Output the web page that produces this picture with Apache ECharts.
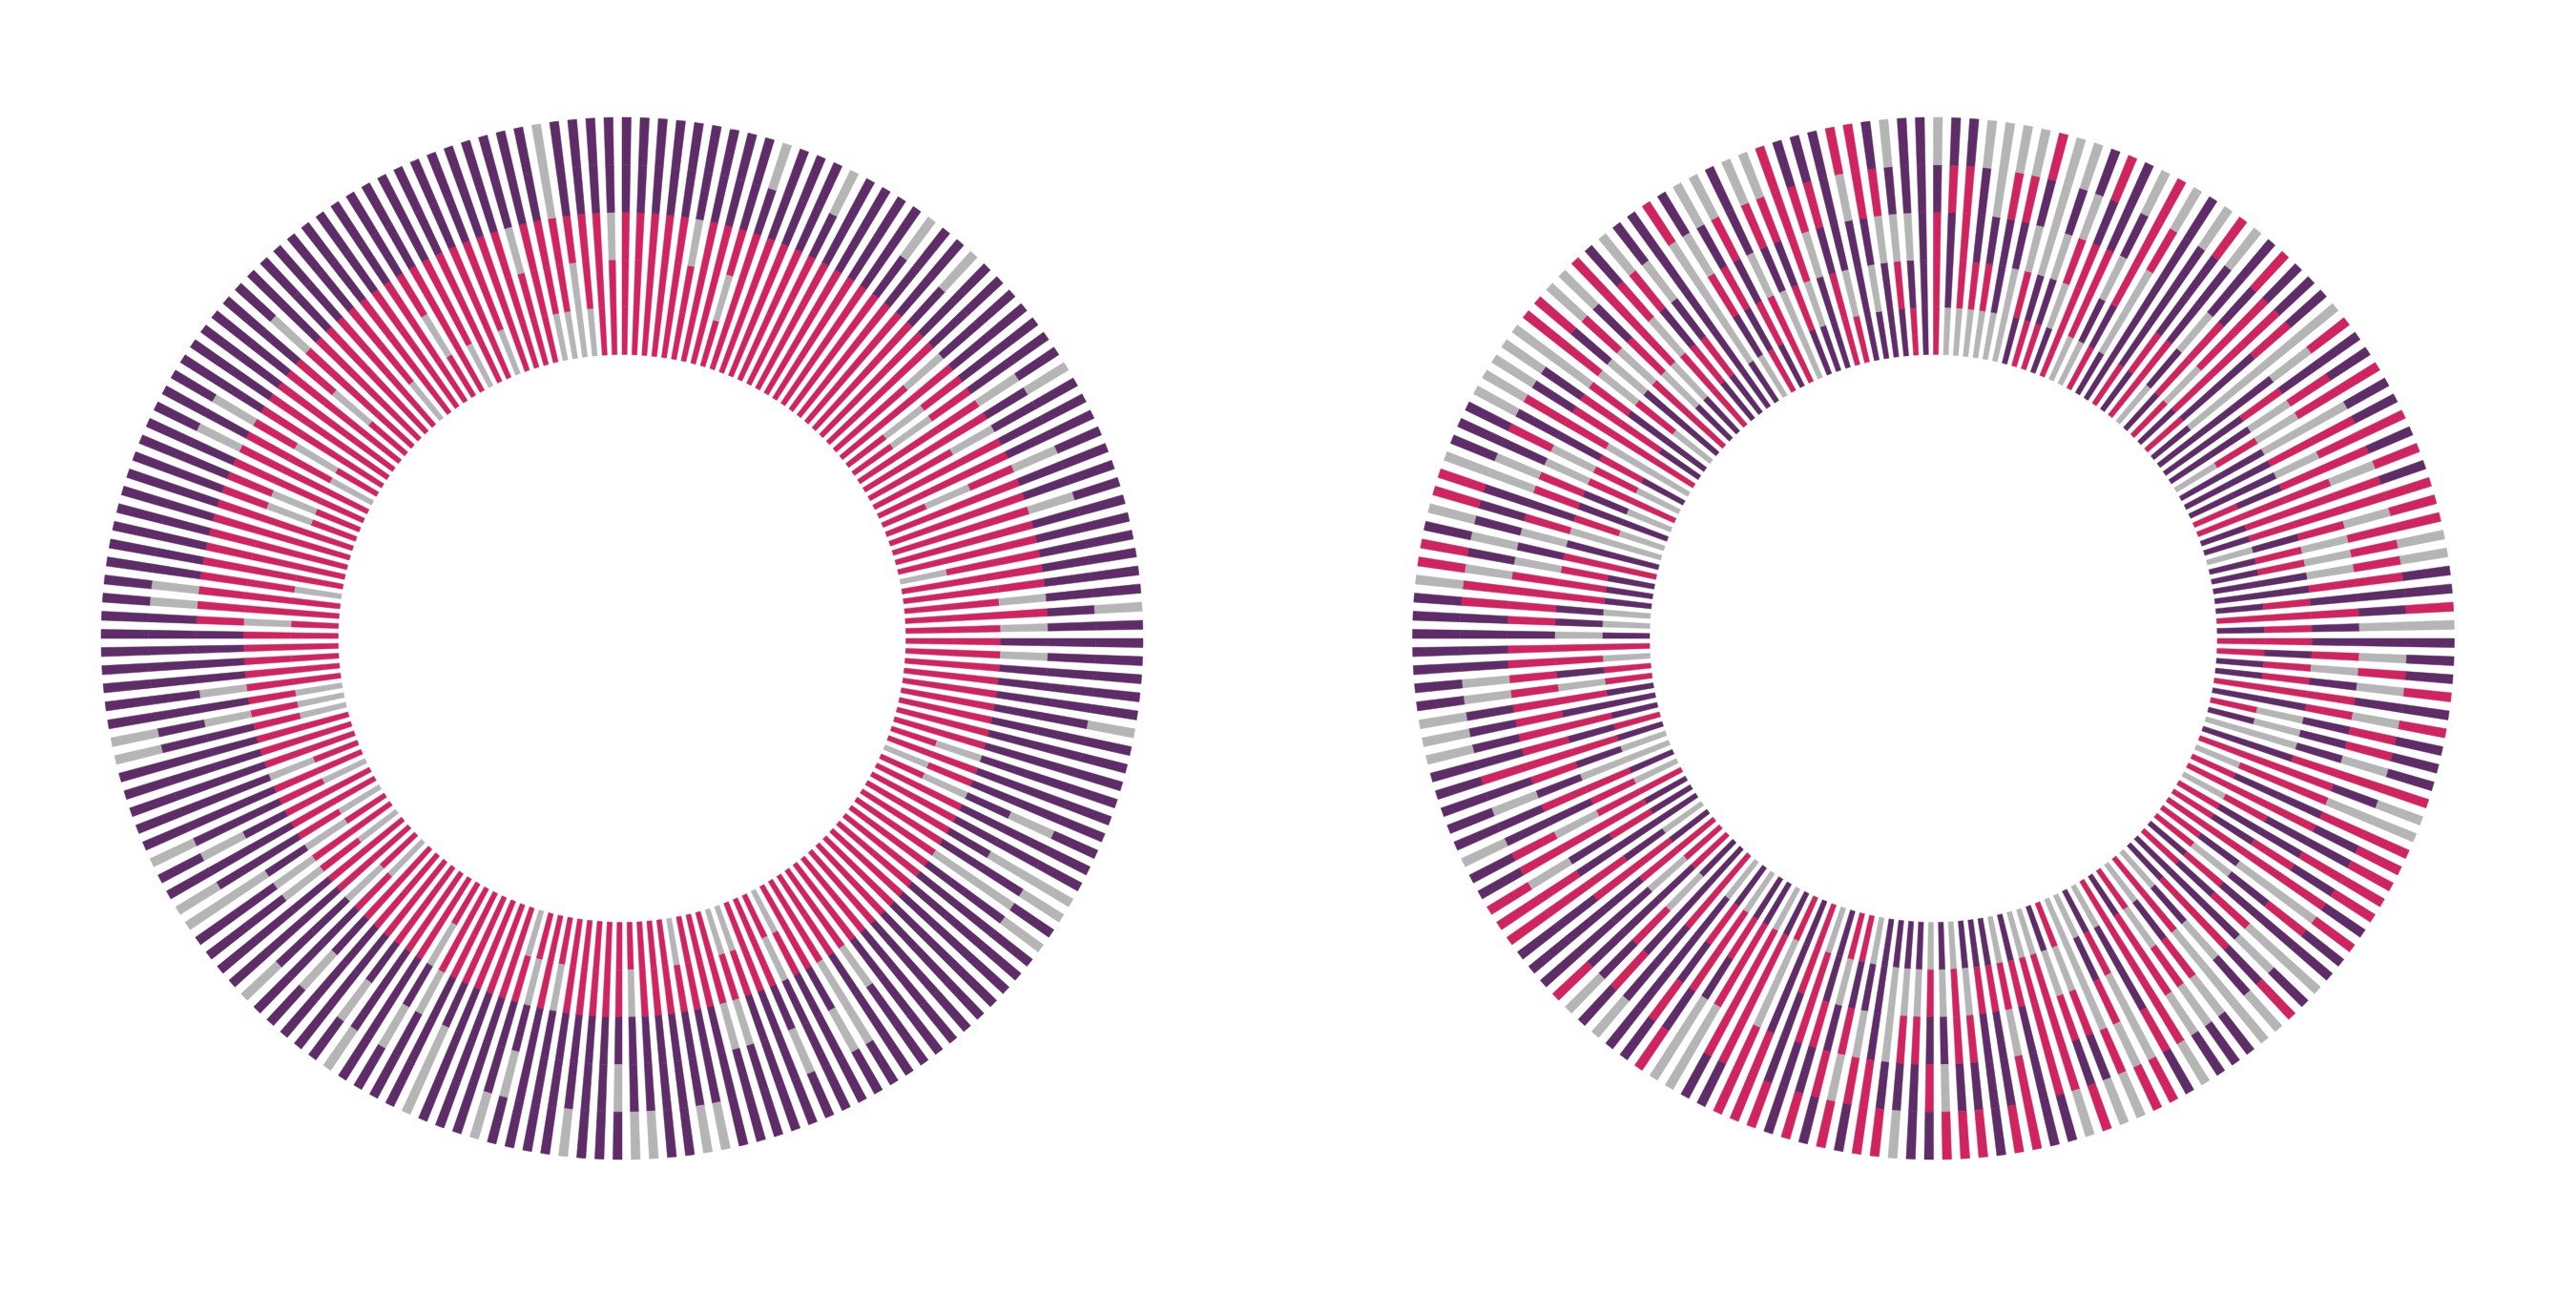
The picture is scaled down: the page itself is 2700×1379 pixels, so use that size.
<!DOCTYPE html>
<html><head><meta charset="utf-8">
<style>html,body{margin:0;padding:0;background:#fff}#c{width:2700px;height:1379px}</style>
<script src="https://cdn.jsdelivr.net/npm/echarts@6/dist/echarts.min.js"></script>
</head><body><div id="c"></div>
<script>
// Each spoke reads from the inner cell to the outer cell: R, P or G.
const leftSpokes = [
"RRRPP","RRRPP","RRRPP","RRRPP","RRRPP","RRGPP","RRRPP","RRRPP","RGRPP","RRRPG",
"RRRPP","RRRPP","RRRPP","RRRPG","RRRPP","RRRPP","RRRPP","RRRPP","RRRPG","RRRPP",
"RRRPP","RRRPG","RRRPP","RRRPP","RRGPP","RRRPP","RGRPP","RGRPP","RRRGP","RRRPG",
"RRGPP","RRRPP","RRRPP","RGRGP","RRRPP","RRRPP","RRRGP","RRRPP","RRRPP","GRRPP",
"RRRPP","RRRPP","RRGPP","RRRPG","RRGPP","RRPPP","RRGPP","RRPPP","RRPPP","RRPPP",
"RRPPG","RRPPP","RRPPP","RRPPP","RGPPP","RRPPP","GRPPP","RGPGP","RRPPP","RRPPP",
"RRPGG","RRPPG","RRGGP","RRPPG","RRPPP","RRPPP","RRPPP","RRPPP","RRPPP","RRPPP",
"RRPPP","RRPPP","RRGPP","RRPPP","RRGGP","RRPGP","GRPPP","RGPPP","RRPGP","RRPPP",
"GRPPP","GRGPP","RRGPP","RRPPP","RRPPG","GRPPG","RRPPP","RRPPP","RRPPG","RGPPG",
"RRPGP","RRPPP","RRPPP","RRPPG","RRPPP","RGPPP","RRPPP","RGPGP","GRPPG","RRPPP",
"RRPPP","RRPPP","RRPGG","RRPPP","RRGPP","RGPGP","RRPPP","RRPPG","RRPGP","RRPPP",
"RRPPP","RRPGP","GRPPP","RGPPG","RRPPP","RRPPP","GRGPP","RRGPP","RGPGG","GRPPG",
"RRPPP","RRPGP","GRPPG","RRPPP","RGPPP","RRPPP","RRPPP","RRPPP","GRPPG","GRGPG",
"GRPPP","RRGPP","RRPPP","RRPPP","RRPPP","RRPPP","RGRPP","RRRGP","RRRGP","GRRPP",
"RRRPP","RRRPP","RRRPP","RRRPP","RRRPP","RGRPP","RGRPP","RRRPP","RRRGP","GRRPP",
"RGRGP","RRRPP","RRRPP","RRRPP","RRRPP","RGRPP","RRRGP","RRRPP","RRRPP","RRRPP",
"GRRPP","RRRPP","RRRPP","RRRPP","RGRPP","RRRPP","GRRPP","RRRPP","RRRPP","GRRPP",
"RRRPP","RRRPP","RRGPP","RRRPP","GRRPP","GRRGG","GGRPP","GRRPP","RRRPP","RRGPP"
];
const rightSpokes = [
"RRRPG","GPPRP","GRRRP","GRPPG","GRPGG","GPPRG","GGPRG","PRGPR","RPGGG","RPGPG",
"PGRGP","RRRPR","GRRPP","GPGPG","RPRRR","PGGRG","PPPPP","RPPPG","PRPPR","RRPPG",
"GPGPP","PRRPR","RGRRP","PRRRP","RPPRP","PGGGG","PPPGR","PPRPP","PPGRP","GRGRR",
"PPGGP","PPRRP","PPGRR","RPRRP","RRRGR","PRRRP","PRRRR","GPRGR","PRGRR","PRGRG",
"PPGRG","PPRRP","PRPPP","RRRPR","PRPGG","RRPPP","RPRGP","PRGRP","PRPGR","RRRPP",
"PPRGR","RGPRP","PGPRP","GGPGP","PPRRR","RRRPG","GRRGG","RPPRR","RRRPR","GRPPR",
"RPPRR","RPRPR","RRRRP","RPGGR","RGPRP","PRPPP","RPRGG","PPPGP","PRRPR","GPGPG",
"RRGGG","GPRGP","RGRGP","PRRGP","RRRRG","GPPRP","PRGGR","GPRGR","GGGRG","RGRPG",
"PGRPR","GRRRG","GRRRP","PRPPP","GRGRR","PRPPR","PRPPP","PGRPR","GRRPR","PGPGR",
"GRPRP","PGRPP","PGRPG","PGGPR","PPPRR","GPGRP","RPRGR","RGPRP","PPRPR","GRRPP",
"RRPPR","PPPRR","RGGRR","PRRRP","GRRRP","PRRGG","PRPGG","GRRPR","PRPRP","GPPPP",
"RRPPG","PPPRP","PGRPG","RPPPR","RGPPP","RRPPP","PRRPP","GPRRR","PPPRR","PRPGR",
"PRRRP","RRGRP","GRPPG","PRRPP","GGPGP","GPRPP","PRRRP","RPRPP","PRRPG","PPRPG",
"PRRPG","RGRGP","RPRGP","GRRPP","RRRPP","PGPPP","GPRPP","GPRRP","PRRRG","PRRGR",
"PRGPR","RRPGP","PPGPG","GGRPR","GRPPR","PPRGG","GPRGP","RRGPP","GRGRP","PRPPG",
"GGRRG","RRRPG","PRRPG","PPRGG","GRGRR","PPGPR","RRGRG","PGRPG","PGRRR","RRGRP",
"PRPRG","PRPGP","PPPPP","PGGGR","GPRGP","RPRPG","PRPRG","RRGPP","GGPRG","PRPRG",
"PGRRR","PPGRP","RRPRP","RGPPP","PPPGR","PGPRR","PPGRP","PRGPG","RPGPP","PPPPP"
];
const cellSize = [1, 1, 1, 1, 1];
const palette = { R: '#cf245e', P: '#5e2d68', G: '#b5b5b5' };

const chart = echarts.init(document.getElementById('c'), null, { renderer: 'canvas' });
const hidden = { axisLine: { show: false }, axisTick: { show: false }, axisLabel: { show: false }, splitLine: { show: false }, splitArea: { show: false } };
const rings = [leftSpokes, rightSpokes];
const series = [];
rings.forEach((spokes, ringIndex) => {
  cellSize.forEach((size, cellIndex) => {
    series.push({
      type: 'bar',
      coordinateSystem: 'polar',
      polarIndex: ringIndex,
      stack: 'ring' + ringIndex,
      barWidth: '50%',
      silent: true,
      data: spokes.map(s => ({
        value: size,
        itemStyle: { color: palette[s[cellIndex]], borderColor: palette[s[cellIndex]], borderWidth: 0.5 }
      }))
    });
  });
});
chart.setOption({
  animation: false,
  backgroundColor: '#ffffff',
  polar: [
    { center: [652, 669], radius: [297.5, 546] },
    { center: [2026.5, 669], radius: [297.5, 546] }
  ],
  angleAxis: rings.map((spokes, ringIndex) => Object.assign({
    polarIndex: ringIndex, type: 'category', startAngle: 90.5, clockwise: true,
    data: spokes.map((s, i) => String(i))
  }, hidden)),
  radiusAxis: rings.map((spokes, ringIndex) => Object.assign({
    polarIndex: ringIndex, type: 'value', min: 0, max: 5
  }, hidden)),
  series
});
</script></body></html>
